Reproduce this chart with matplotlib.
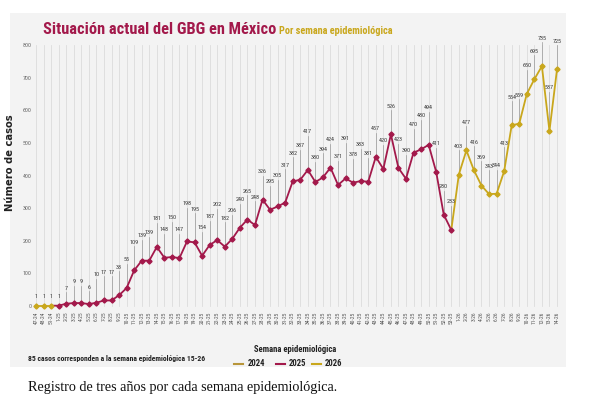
import matplotlib
matplotlib.use('Agg')
import matplotlib.pyplot as plt
from matplotlib.patches import Rectangle
from matplotlib.lines import Line2D
from matplotlib import font_manager

# --- data (casos por semana epidemiologica) ---
weeks_2024 = ['47-24', '48-24', '51-24']
cases_2024 = [1, 1, 1]

weeks_2025 = [f'{w}-25' for w in range(1, 54)]
cases_2025 = [1, 7, 9, 9, 6, 10, 17, 17, 33, 55, 109, 139, 139, 181, 148, 150,
              147, 198, 195, 154, 187, 202, 182, 206, 240, 265, 248, 326, 295,
              305, 317, 382, 387, 417, 380, 394, 424, 371, 391, 378, 383, 381,
              457, 420, 526, 423, 390, 470, 480, 494, 411, 280, 233]

weeks_2026 = [f'{w}-26' for w in range(1, 15)]
cases_2026 = [403, 477, 416, 369, 343, 344, 413, 554, 559, 650, 695, 735, 537, 725]

# colours
RED = '#A3194B'
GOLD = '#C9A71C'
GOLD_DARK = '#B8963A'
PANEL = '#F3F3F3'

# label layout: default lift above the point, a few hand tweaks
LABEL_LIFT = 86
label_lift_fix = {0: 27, 1: 27, 2: 27, 3: 27, 4: 48, 5: 65, 6: 65, 7: 52,
                  14: 76, 18: 120, 20: 115, 21: 102, 24: 108, 32: 94, 33: 115,
                  35: 104, 36: 117, 37: 74, 41: 121, 43: 111, 51: 103, 52: 113,
                  68: 132}

# look for a narrow sans; fall back to Noto Sans condensed / DejaVu
names = {f.name for f in font_manager.fontManager.ttflist}
narrow = [n for n in ('Liberation Sans Narrow', 'Roboto Condensed', 'Open Sans Condensed',
                      'Noto Sans Condensed', 'DejaVu Sans Condensed') if n in names]
NARROW = narrow + ['Noto Sans', 'DejaVu Sans']
STRETCH = 'condensed'

W, H = 600, 405


def px(x, y):
    """pixel coords (top-left origin) -> figure fraction"""
    return x / W, 1 - y / H


fig = plt.figure(figsize=(6, 4.05), dpi=100)

# grey panel behind the chart
x0, y0 = px(10, 367)
x1, y1 = px(566, 13)
fig.add_artist(Rectangle((x0, y0), x1 - x0, y1 - y0, transform=fig.transFigure,
                         facecolor=PANEL, edgecolor='none', zorder=0))

# axes placed so that first/last week sit on pixel 36 / 557
ax_l, ax_b = px(36, 306)
ax_r, ax_t = px(557, 45)
ax = fig.add_axes([ax_l, ax_b, ax_r - ax_l, ax_t - ax_b])
ax.set_facecolor('none')

labels = weeks_2024 + weeks_2025 + weeks_2026
values = cases_2024 + cases_2025 + cases_2026
n24, n25 = len(cases_2024), len(cases_2025)
xs = list(range(len(values)))

ax.set_xlim(0, len(values) - 1)
ax.set_ylim(0, 800)

# vertical grid on every week
for x in xs:
    ax.plot([x, x], [0, 800], color='#DCDCDC', lw=0.6, zorder=1, clip_on=False)

# series lines (each one picks up from the last point of the previous year)
x24 = xs[:n24]
x25 = xs[n24 - 1:n24 + n25]
x26 = xs[n24 + n25 - 1:]
ax.plot(x24, values[:n24], color=GOLD, lw=1.3, zorder=3, clip_on=False)
ax.plot(x25, values[n24 - 1:n24 + n25], color=RED, lw=1.3, zorder=3, clip_on=False)
ax.plot(x26, values[n24 + n25 - 1:], color=GOLD, lw=1.3, zorder=3, clip_on=False)

# markers
for i, (x, v) in enumerate(zip(xs, values)):
    c = RED if n24 <= i < n24 + n25 else GOLD
    ax.plot(x, v, marker='D', ms=2.6, color=c, zorder=4, clip_on=False)

# value labels with leader lines
for i, (x, v) in enumerate(zip(xs, values)):
    lift = label_lift_fix.get(i, LABEL_LIFT)
    ly = v + lift
    if lift > 35:
        ax.plot([x, x], [v, ly - 12], color='#9A9A9A', lw=0.5, zorder=2, clip_on=False)
    ax.text(x, ly, str(v), ha='center', va='center', fontsize=4.4,
            color='#3A3A3A', family=NARROW, stretch=STRETCH, zorder=5, clip_on=False)

ax.set_yticks(range(0, 801, 100))
ax.set_xticks(xs)
ax.set_xticklabels(labels, rotation=90, fontsize=4.0, color='#555555')
ax.tick_params(axis='y', labelsize=4.2, labelcolor='#666666', length=0, pad=3)
ax.tick_params(axis='x', length=0, pad=4)
for lbl in ax.get_xticklabels() + ax.get_yticklabels():
    lbl.set_family(NARROW)
    lbl.set_stretch(STRETCH)
for s in ax.spines.values():
    s.set_visible(False)

ax.set_ylabel('Número de casos', fontsize=7.2, fontweight='bold', color='#222222')
ax.yaxis.set_label_coords(-0.04, 0.55)

# title
fig.text(*px(43, 29), 'Situación actual del GBG en México', fontsize=11.8,
         fontweight='bold', color=RED, family=NARROW, stretch=STRETCH,
         va='center', ha='left')
fig.text(*px(279, 31), 'Por semana epidemiológica', fontsize=7.4,
         fontweight='bold', color=GOLD, family=NARROW, stretch=STRETCH,
         va='center', ha='left')

# footnote inside the panel
fig.text(*px(28, 359), '85 casos corresponden a la semana epidemiológica 15-26',
         fontsize=5.5, fontweight='bold', color='#222222', family=NARROW,
         stretch=STRETCH, va='center', ha='left')

# legend drawn by hand
fig.text(*px(295, 350), 'Semana epidemiológica', fontsize=6.2, fontweight='bold',
         color='#222222', family=NARROW, stretch=STRETCH, va='center', ha='center')
for lx, tx, yr, col in [(234, 248, '2024', GOLD_DARK), (276, 289, '2025', RED),
                        (312, 325, '2026', GOLD)]:
    fa, fb = px(lx, 364), px(lx + 9, 364)
    fig.add_artist(Line2D([fa[0], fb[0]], [fa[1], fb[1]], color=col, lw=1.5,
                          transform=fig.transFigure))
    fig.text(*px(tx, 364), yr, fontsize=6.2, fontweight='bold',
             color='#222222', family=NARROW, stretch=STRETCH, va='center', ha='left')

# caption under the image
fig.text(*px(28, 388), 'Registro de tres años por cada semana epidemiológica.',
         fontsize=10.2, family=['Liberation Serif', 'DejaVu Serif'], color='#111111',
         va='center', ha='left')

fig.savefig('out.png', dpi=100, facecolor='white')
